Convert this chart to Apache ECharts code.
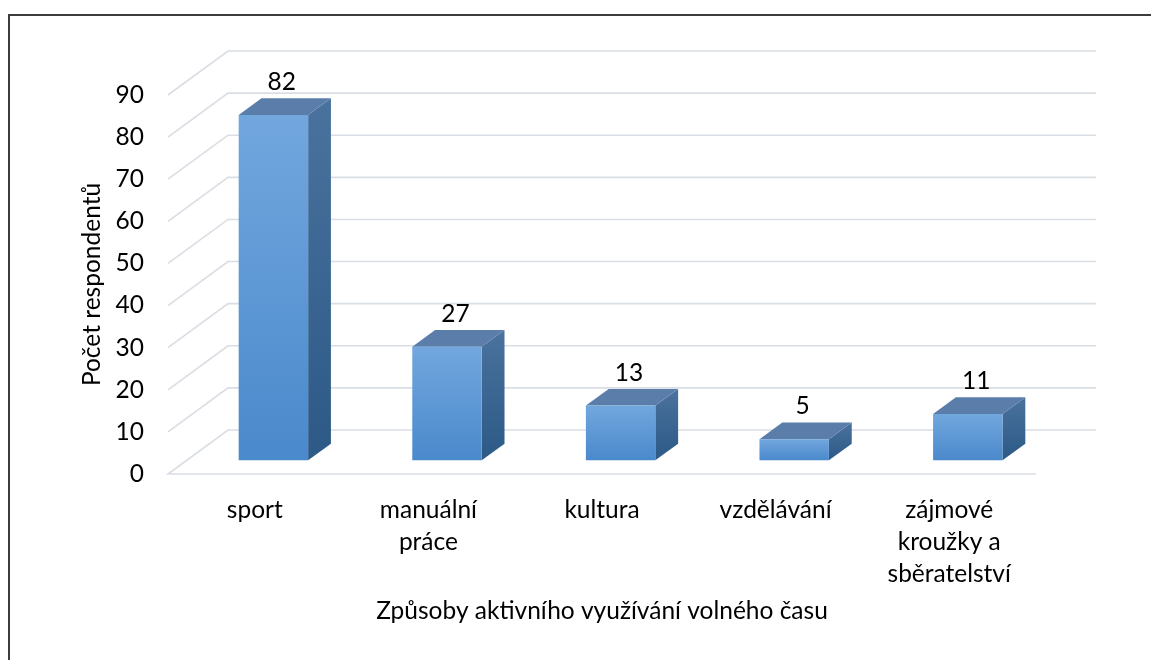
<!DOCTYPE html>
<html>
<head>
<meta charset="utf-8">
<script src="https://cdn.jsdelivr.net/npm/echarts@6/dist/echarts.min.js"></script>
<style>
  html, body { margin: 0; padding: 0; background: #fff; }
  #chart { width: 1151px; height: 660px; }
</style>
</head>
<body>
<div id="chart"></div>
<script>
// data
var categories = ['sport', 'manuální\npráce', 'kultura', 'vzdělávání', 'zájmové\nkroužky a\nsběratelství'];
var respondents = [82, 27, 13, 5, 11];
var yTicks = [0, 10, 20, 30, 40, 50, 60, 70, 80, 90];

// 3D look: depth of the floor in pixels, bar sits between d1 and d2 of it
var DX = 60, DY = -44;
var D1 = 0.31, D2 = 0.69;
var BAR_W = 0.40;
var FONT = 'Lato';
var FS = 24.5;

var chart = echarts.init(document.getElementById('chart'));

function gridItem(params, api) {
    var v = api.value(0);
    var band = api.size([1, 0])[0];
    var x0 = api.coord([0, 0])[0] - band / 2;
    var x1 = api.coord([categories.length - 1, 0])[0] + band / 2;
    var y = api.coord([0, v])[1];
    var pts;
    if (v === 0) {
        pts = [[x1, y], [x0, y], [x0 + DX, y + DY], [x1 + DX, y + DY]];
    } else {
        pts = [[x0, y], [x0 + DX, y + DY], [x1 + DX, y + DY]];
    }
    return {
        type: 'polyline',
        shape: { points: pts },
        style: { stroke: '#d9dde4', lineWidth: 1.6, fill: null },
        silent: true
    };
}

function barItem(params, api) {
    var i = api.value(0);
    var v = api.value(1);
    var band = api.size([1, 0])[0];
    var top = api.coord([i, v]);
    var base = api.coord([i, 0]);
    var w = band * BAR_W;
    var fx = top[0] - w / 2 + DX * D1;
    var fyTop = top[1] + DY * D1;
    var fyBot = base[1] + DY * D1;
    var ddx = DX * (D2 - D1), ddy = DY * (D2 - D1);
    return {
        type: 'group',
        children: [
            {
                type: 'polygon',
                shape: { points: [[fx + w, fyTop], [fx + w + ddx, fyTop + ddy], [fx + w + ddx, fyBot + ddy], [fx + w, fyBot]] },
                style: { fill: new echarts.graphic.LinearGradient(0, 0, 0, 1, [
                    { offset: 0, color: '#4a729e' }, { offset: 1, color: '#2c5986' }]) }
            },
            {
                type: 'polygon',
                shape: { points: [[fx, fyTop], [fx + w, fyTop], [fx + w + ddx, fyTop + ddy], [fx + ddx, fyTop + ddy]] },
                style: { fill: '#5a7ea9' }
            },
            {
                type: 'rect',
                shape: { x: fx, y: fyTop, width: w, height: fyBot - fyTop },
                style: { fill: new echarts.graphic.LinearGradient(0, 0, 0, 1, [
                    { offset: 0, color: '#72a7de' }, { offset: 1, color: '#4a89cc' }]) }
            },
            {
                type: 'text',
                x: fx + w / 2 + ddx / 2 - 3,
                y: fyTop + ddy - 16,
                style: {
                    text: String(v), fill: '#000', font: FS + 'px ' + FONT,
                    align: 'center', verticalAlign: 'middle'
                }
            }
        ]
    };
}

var option = {
    backgroundColor: '#fff',
    animation: false,
    graphic: [{
        type: 'rect',
        shape: { x: 9, y: 15, width: 1200, height: 700 },
        style: { fill: null, stroke: '#3c3c3c', lineWidth: 2 },
        silent: true
    }],
    grid: { left: 168, right: 115, top: 95, bottom: 186 },
    xAxis: {
        type: 'category',
        data: categories,
        axisLine: { show: false },
        axisTick: { show: false },
        axisLabel: { interval: 0, margin: 20, color: '#000', fontFamily: FONT, fontSize: FS, lineHeight: 32, align: 'center' },
        name: 'Způsoby aktivního využívání volného času',
        nameLocation: 'middle',
        nameGap: 125,
        nameTextStyle: { color: '#000', fontFamily: FONT, fontSize: FS }
    },
    yAxis: {
        type: 'value',
        min: 0, max: 90, interval: 10,
        axisLine: { show: false },
        axisTick: { show: false },
        splitLine: { show: false },
        axisLabel: { margin: 24, color: '#000', fontFamily: FONT, fontSize: FS },
        name: 'Počet respondentů',
        nameLocation: 'middle',
        nameGap: 62,
        nameTextStyle: { color: '#000', fontFamily: FONT, fontSize: FS }
    },
    series: [
        {
            type: 'custom',
            renderItem: gridItem,
            data: yTicks.map(function (t) { return [t]; }),
            encode: { y: 0 },
            z: 1,
            silent: true
        },
        {
            type: 'custom',
            renderItem: barItem,
            data: respondents.map(function (v, i) { return [i, v]; }),
            encode: { x: 0, y: 1 },
            z: 2
        }
    ]
};

chart.setOption(option);
</script>
</body>
</html>
